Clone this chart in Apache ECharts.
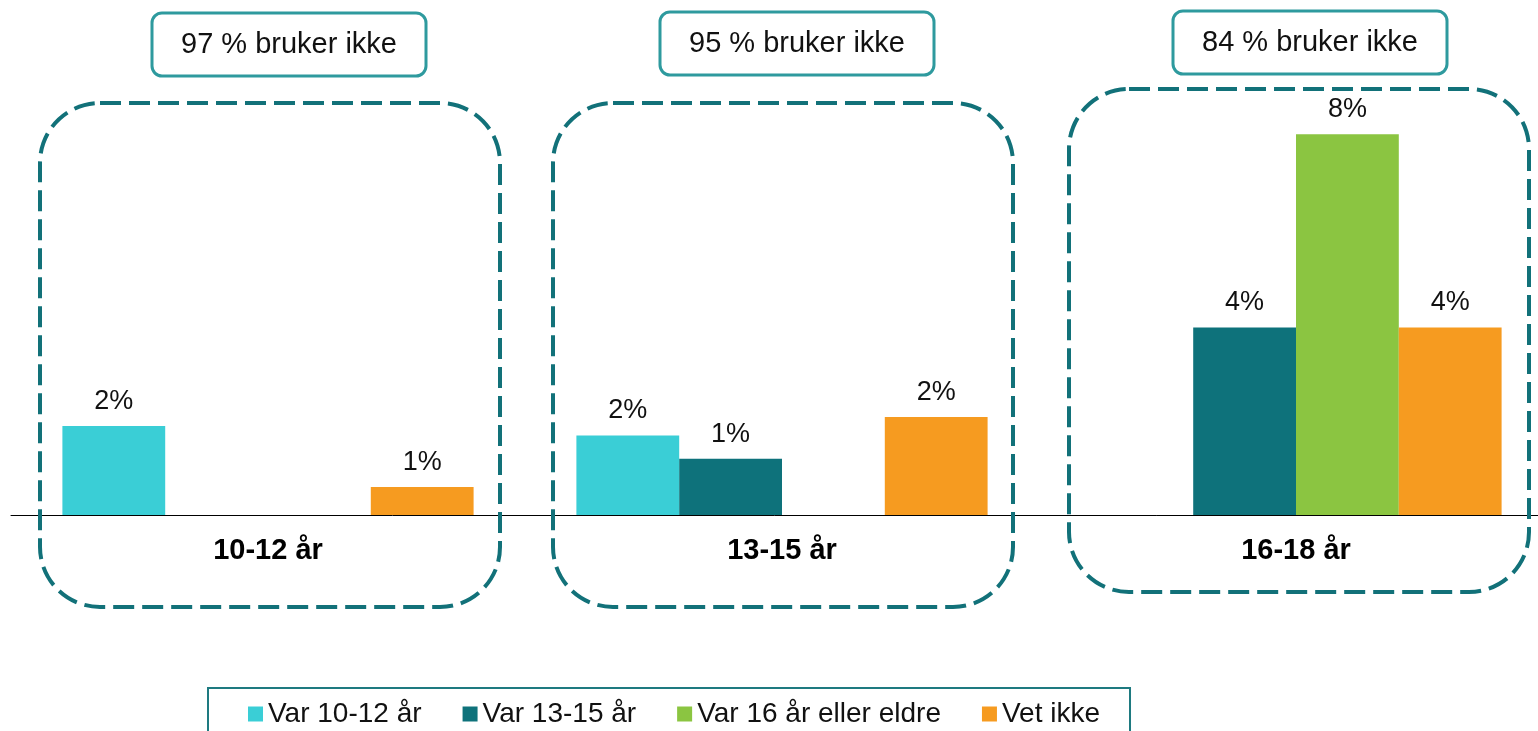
<!DOCTYPE html>
<html>
<head>
<meta charset="utf-8">
<script src="https://cdn.jsdelivr.net/npm/echarts@6/dist/echarts.min.js"></script>
<style>
  html, body { margin: 0; padding: 0; background: #fff; }
  #chart { width: 1538px; height: 731px; }
</style>
</head>
<body>
<div id="chart"></div>
<script>
// age groups today
const categories = ['10-12 år', '13-15 år', '16-18 år']
// share that does not use, per group
const notUsing = ['97 % bruker ikke', '95 % bruker ikke', '84 % bruker ikke']
// age at first use (percent)
const seriesNames = ['Var 10-12 år', 'Var 13-15 år', 'Var 16 år eller eldre', 'Vet ikke']
const var1012 = [1.87, 1.67, null]
const var1315 = [null, 1.18, 3.94]
const var16 = [null, null, 8.0]
const vetIkke = [0.59, 2.06, 3.94]

const colors = ['#3ACED6', '#0E727B', '#8BC541', '#F69B20']
const font = '"Liberation Sans", Arial, sans-serif'

const chart = echarts.init(document.getElementById('chart'))

function barSeries(name, data) {
  return {
    name: name,
    type: 'bar',
    data: data,
    barGap: 0,
    barCategoryGap: '20%',
    label: {
      show: true,
      position: 'top',
      distance: 11,
      color: '#111',
      fontFamily: font,
      fontSize: 27,
      formatter: p => Math.round(p.value) + '%'
    }
  }
}

const option = {
  animation: false,
  color: colors,
  grid: { left: 11, width: 1542, top: 39, bottom: 216, outerBoundsMode: 'none', containLabel: false },
  xAxis: {
    type: 'category',
    data: categories,
    axisLine: { lineStyle: { color: '#000', width: 1 } },
    axisTick: { show: false },
    axisLabel: {
      margin: 21,
      color: '#000',
      fontFamily: font,
      fontSize: 29,
      fontWeight: 'bold'
    }
  },
  yAxis: {
    type: 'value',
    min: 0,
    max: 10,
    show: false,
    splitLine: { show: false }
  },
  legend: {
    left: 208,
    top: 688,
    padding: [12, 30, 40, 40],
    borderColor: '#1E7A80',
    borderWidth: 2,
    itemWidth: 15,
    itemHeight: 15,
    itemGap: 41,
    icon: 'rect',
    textStyle: { fontFamily: font, fontSize: 28, color: '#111' },
    data: seriesNames
  },
  series: [
    barSeries(seriesNames[0], var1012),
    barSeries(seriesNames[1], var1315),
    barSeries(seriesNames[2], var16),
    barSeries(seriesNames[3], vetIkke)
  ]
}

chart.setOption(option)

// dashed frames around each group and the boxes with "bruker ikke" on top
const frameTop = [103, 103, 89]
const frameBottom = [607, 607, 592]
const frameShift = [2, 1, 3]
const noteTop = [13, 12, 11]
const noteShift = [21, 15, 14]
const graphics = []
categories.forEach((c, i) => {
  const cx = chart.convertToPixel({ xAxisIndex: 0 }, i)
  graphics.push({
    type: 'rect',
    z: 100,
    shape: { x: cx - 230 + frameShift[i], y: frameTop[i], width: 460, height: frameBottom[i] - frameTop[i], r: 60 },
    style: { fill: null, stroke: '#127179', lineWidth: 4, lineDash: [21, 8] }
  })
  graphics.push({
    type: 'rect',
    z: 100,
    shape: { x: cx - 137 + noteShift[i], y: noteTop[i], width: 274, height: 63, r: 10 },
    style: { fill: '#fff', stroke: '#2E9A9E', lineWidth: 3 }
  })
  graphics.push({
    type: 'text',
    z: 101,
    x: cx + noteShift[i],
    y: noteTop[i] + 32,
    style: {
      text: notUsing[i],
      fontFamily: font,
      fontSize: 29,
      fill: '#111',
      align: 'center',
      verticalAlign: 'middle'
    }
  })
})
chart.setOption({ graphic: graphics })

window.addEventListener('resize', () => {
  chart.resize()
})
</script>
</body>
</html>
